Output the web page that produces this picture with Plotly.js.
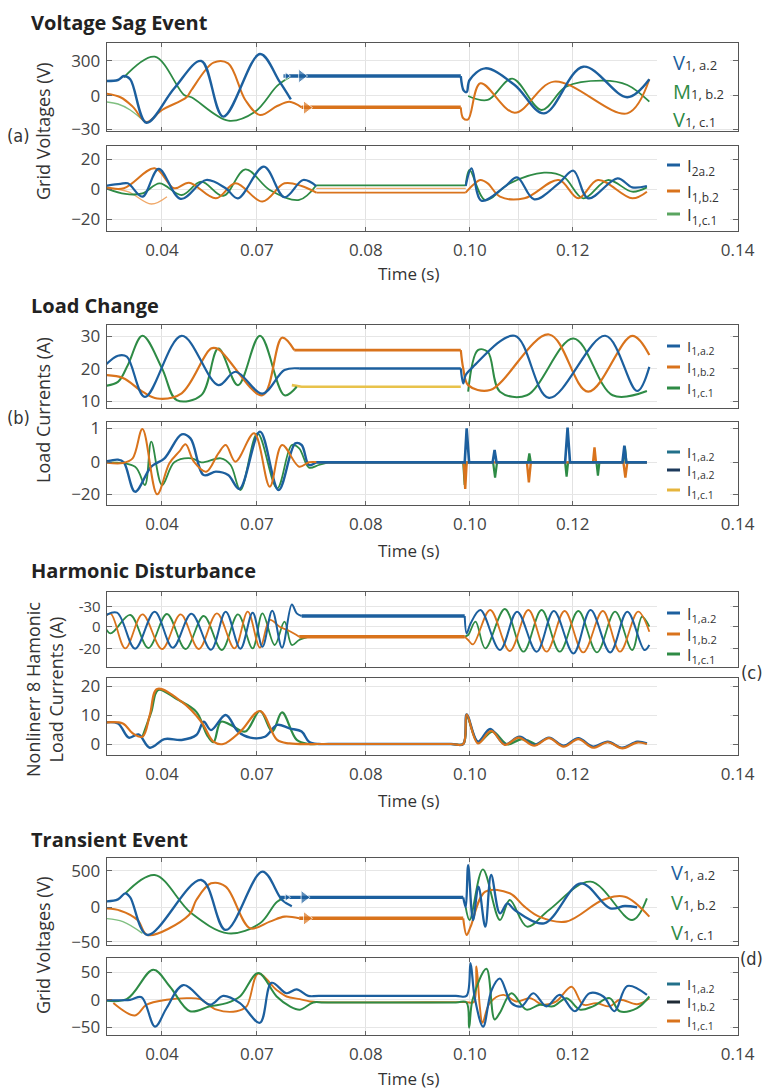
<!DOCTYPE html>
<html><head><meta charset="utf-8">
<script src="https://cdn.plot.ly/plotly-3.0.1.min.js"></script>
<style>html,body{margin:0;padding:0;background:#fff}#chart{width:766px;height:1090px}</style>
</head><body><div id="chart"></div>
<script>
// ---------- shared x axis (plot-time units, labels as printed) ----------
const xTickVals = [33.98, 53.37, 75.61, 96.84, 117.86, 151.53];
const xTickText = ["0.04", "0.07", "0.08", "0.10", "0.12", "0.14"];
const xExtraGrid = [106.84];

// ---------- (a) Voltage Sag Event : upper (voltages) ----------
const aUpTick = [300, 0, -286], aUpTickText = ["300", "0", "\u221230"];
const aUpBlueX = [22,25,26.2,27.5,30.8,36.5,42,46.5,54,58,60.3,null,95,95.6,96.2,96.8,100,106,112,120,129,133.5];
const aUpBlueY = [129,137,171,143,-229,66,300,-177,360,123,-29,null,171,46,34,137,237,94,-149,251,-11,143];
const aUpBlueFlatX = [58.8, 95], aUpBlueFlatY = [171, 171];
const aUpOrangeX = [22,25.5,28,30.8,34,39,40,44.5,47.5,51,54,57.5,60,62.5,null,95,95.5,96.5,99,106,114,129,133.5];
const aUpOrangeY = [23,-11,-91,-223,-120,-11,51,286,280,-34,-163,-86,-49,-97,null,-97,-191,-200,109,-143,123,-149,143];
const aUpOrangeFlatX = [62.5, 95], aUpOrangeFlatY = [-97, -97];
const aUpGreenX = [26.2,32.5,38.5,40,47.5,53,57.5,60,null,96.5,100.5,105.5,111.5,116.5,124,129,133.5];
const aUpGreenY = [160,337,9,-11,-211,-134,86,160,null,0,-34,149,-120,80,131,94,-49];
const aUpGreenGhostX = [22,25,27.5,30.5], aUpGreenGhostY = [-49,-69,-120,-223];
const aArrowX = [59.5, 62.5, 63.5], aArrowY = [171, 171, -100];

// ---------- (a) lower (currents) ----------
const aLoTick = [20, 0, -20], aLoTickText = ["20", "0", "\u221220"];
const aLoBlueX = [22,25.5,27,30,33.3,37.8,43,47,49.5,54.8,59,62.8,65.5,null,96,97.2,99.2,104,106.5,110,115,118,121,127,130,133];
const aLoBlueY = [2.2,3.6,4,-4.9,13.6,-6.4,6.2,0.7,-6,15.1,-5.3,6.2,2.2,null,2.2,14,-7.6,1.8,8,-6.7,4,12.4,-6,7.3,1.3,2.2];
const aLoOrangeX = [22,26.2,32.5,36.5,39.5,45,49,54.5,59,62.5,65.5,null,96,97.5,99,100.5,103,108,115,119,123,130,133];
const aLoOrangeY = [1.8,0.7,14,0.7,4.4,-6,4,-8.2,4,2.2,-2.2,null,-2.2,2.9,6.2,4,-4.9,-6,6.2,-6,6.2,-6,-1.6];
const aLoOrangeGhostX = [22,27,31.8,35], aLoOrangeGhostY = [1.3,-1.6,-9.8,-4.9];
const aLoGreenX = [22,26.5,30,33.5,38,42,46.5,51,56,62,65.5,null,96,96.8,100,105,112,116,120,125,130,133];
const aLoGreenY = [1.3,-3.1,-2.7,4,-3.8,5.1,-4.4,13.3,-0.4,-7.1,2.7,null,2.7,12.9,-7.1,4,11.1,8.4,-6,6.2,-1.6,1.3];
const aLoFlatX = [65.5, 96];
const aLoFlatGreen = [2.7, 2.7], aLoFlatMid = [0.6, 0.6], aLoFlatOrange = [-2.2, -2.2];

// ---------- (b) Load Change : upper ----------
const bUpTick = [30, 20, 10], bUpTickText = ["30", "20", "10"];
const bUpBlueX = [22,25,26.8,30.5,38,45.5,49,54.5,59,62,null,95,95.5,96,97.5,106,113,124.5,131,133.5];
const bUpBlueY = [20.5,24,23.7,11.4,30.1,15,19.1,12.4,19.6,20.1,null,20.1,15.5,18.1,20.6,30.1,11.1,30.1,13.2,20.6];
const bUpBlueFlatX = [62, 95], bUpBlueFlatY = [20.1, 20.1];
const bUpOrangeX = [22,26,30,33,38,44,45.5,54.5,58.5,61,null,95,95.5,96.5,101,113,121,130,133.5];
const bUpOrangeY = [18.1,17.2,13,10.9,12.5,26.2,26,11.9,29.5,25.7,null,25.7,20.1,15,13.5,30.5,13,30.1,24.2];
const bUpOrangeFlatX = [61, 95], bUpOrangeFlatY = [25.7, 25.7];
const bUpGreenX = [22,25,27,30,34,37,42,45.5,49.5,54,59,61.5,null,96.5,98.5,100.5,103,108.5,118,126,133];
const bUpGreenY = [14.7,16,21.1,30.1,20.1,10.4,11.9,26.2,15,30.1,11.9,14.5,null,13,25.7,25.2,13,11.9,29.3,11.9,13.2];
const bUpYellowX = [60.5, 62.5, 95], bUpYellowY = [15, 14.5, 14.5];

// ---------- (b) lower ----------
const bLoTick = [1.02, 0, -0.96], bLoTickText = ["1", "0", "\u221220"];
const bLoBlueX = [22,25,26.2,28.5,31.8,34.5,38,39.8,42.5,45,47.5,49.8,54,57.8,61.2,62.5,64,65.5];
const bLoBlueY = [0,0.08,0,-0.88,-0.13,0.12,0.84,0.72,-0.38,-0.28,-0.38,-0.8,0.92,-0.83,0.57,0.52,-0.08,0];
const bLoOrangeX = [22,26,28,30,33,35.5,37.5,38.8,40.5,43,45.5,47,49,52.8,56,58.5,62,64,66];
const bLoOrangeY = [0,-0.02,0.12,1.0,-0.96,-0.03,0.32,0.54,0.02,-0.28,0.27,0.52,0.02,0.87,-0.73,0.52,-0.13,0,0];
const bLoGreenX = [22,28.5,30.5,31.8,34,36.5,40,42,46,48,50,53.5,57.5,60.5,62,64,66,68];
const bLoGreenY = [0,-0.13,-0.68,0.62,-0.68,0,0.12,0,0.12,-0.08,-0.83,0.87,-0.78,0.52,0.42,-0.16,-0.08,0];
const bLoBlueSpX = [65.5,95.8,96.2,96.7,101.5,101.9,102.3,116.3,116.8,117.3,128,128.4,128.8,133];
const bLoBlueSpY = [0,0,1.02,0,0,0.37,0,0,1.04,0,0,0.5,0,0];
const bLoOrangeSpX = [66,95.6,95.9,96.2,108.5,108.9,109.3,122,122.3,122.6,128.2,128.6,129,133];
const bLoOrangeSpY = [0,0,-0.8,0,0,-0.6,0,0,0.45,0,0,-0.46,0,0];
const bLoGreenSpX = [68,95.5,95.8,96.1,101.6,102,102.4,108.7,109,109.3,116.3,116.6,116.9,122.7,123,123.3,128.2,128.5,128.8,133];
const bLoGreenSpY = [0,0,-0.68,0,0,-0.46,0,0,0.27,0,0,-0.43,0,0,-0.4,0,0,0.47,0,0];

// ---------- (c) Harmonic Disturbance : upper ----------
const cUpTick = [20, 0, -21.7], cUpTickText = ["-30", "0", "-20"];
const cUpBlueX = [22,24.8,28.5,32.5,36.2,40,44,47,50,52.5,54.5,56.5,58.5,60.5,61.5,62.5,null,95.8,96.2,97,99,103,106.5,110.5,114,118,121.5,125.5,129,132.5,133.5];
const cUpBlueY = [10,14,-22,15,-21,13,-23,15,-22,14,-20,16,-21,22.3,13.3,10.7,null,10.7,-6.7,3.3,16.7,-23.3,15,-25,15.7,-26.7,16.7,-25.7,15,-23.3,-18.3];
const cUpBlueFlatX = [62.5, 95.8], cUpBlueFlatY = [10.7, 10.7];
const cUpOrangeX = [22,23.5,26.5,30,34,37.8,41.5,45.2,48.8,51.5,54,56,58,60,62,null,95.8,96.5,97.5,101,105,108.8,112.5,116.2,120,124,127.5,131.2,133.5];
const cUpOrangeY = [8.3,13,-21.7,12.3,-22.3,12.3,-22.3,13.3,-21.7,15,-21,6.7,0,-4.3,-10,null,-10,-13.3,-17.7,16.7,-24.3,16.7,-25,15.7,-25.7,15.7,-25,15,-5];
const cUpOrangeFlatX = [62, 95.8], cUpOrangeFlatY = [-10, -10];
const cUpGreenX = [22,23.5,27.5,31.2,35,38.8,42.5,46.2,49.5,52.5,54.5,57,59,60.5,62,64,null,95.8,96.5,98,100,104,107.8,111.5,115.2,119,122.8,126.5,130,132,133.5];
const cUpGreenY = [3.3,-6.7,11.7,-21.3,12.7,-22.3,10.7,-23.3,12.3,-21.7,13.3,-18.3,5,-18.3,-13.3,-10,null,-10,-8.3,5,-21.7,17.7,-25,16.7,-25,15.7,-25.7,15,-23.3,10,0];

// ---------- (c) lower ----------
const cLoTick = [20, 10, 0], cLoTickText = ["20", "10", "0"];
const cLoBlueX = [22,25,27.2,29.2,31.5,34.5,38,41,42.5,44,47,49.5,52,55,57.5,60,62.5,64,66,68,93,95.5,96.2,98.5,101,104,107,110,113,116,119,122,125,128,131,133];
const cLoBlueY = [7.4,7.1,2.2,3.3,-1.3,1.7,1.4,3.1,7.7,4.8,10,4.3,2.2,2.5,6.6,5.4,4.3,0.8,0,0,0,0,10.2,0.8,5.2,-0.1,2.5,-0.3,2.2,-0.6,2,-0.9,0.8,-1.3,0.8,0.2];
const cLoOrangeX = [22,26,28,30,31.5,33,38,42,44.5,46.5,50,54,57.5,60,66,68,93,95.5,96.2,98.5,101.2,104,106.8,110,113,116,119,122,125,128,131,133];
const cLoOrangeY = [7.4,7.1,3.7,2.5,10,19,14.6,7.7,0.8,0,4.3,11.4,1.4,0.2,0,0,0,0,10.2,0.2,4.5,-0.3,2.2,-0.6,2,-0.9,1.7,-1.3,0.6,-1.5,0.5,0];
const cLoGreenX = [30,31.8,33.2,37,41,43.2,44.5,46,48,51,54,56.5,58.5,61.5,64,66,93,95.5,96.3,98.5,101.5,104.5,107.5,110.5];
const cLoGreenY = [2.5,11.1,18.7,15.5,11.1,3.1,0.6,7.7,6.6,4.3,11.4,4.3,10.9,1.4,0,0,0,0,9.4,0.6,4.3,-0.1,1.7,-0.3];

// ---------- (d) Transient Event : upper ----------
const dUpTick = [500, 0, -468], dUpTickText = ["500", "0", "\u221250"];
const dUpBlueX = [22,25,26.5,27.5,31,42,47,54.5,58.5,60.5,null,95.5,96,96.5,97.5,98.6,100,101.2,103,104.5,106,112,119.5,125.5,128.5,131];
const dUpBlueY = [77,109,191,136,-377,373,-309,486,100,14,null,136,0,577,-173,282,-264,441,-82,55,-36,-218,327,-14,18,0];
const dUpBlueFlatX = [58, 95.5], dUpBlueFlatY = [136, 136];
const dUpOrangeX = [22,25.5,29,31,39.5,41,44,47,52,56,59,62,null,95.5,96.2,97,100,105,108,111,116.5,124,128.5,133.5];
const dUpOrangeY = [-14,-45,-173,-377,-105,100,327,282,-286,-195,-127,-150,null,-150,-377,-264,214,191,9,-127,-195,100,145,-127];
const dUpOrangeFlatX = [62, 95.5], dUpOrangeFlatY = [-150, -150];
const dUpGreenX = [26.5,32.5,40,47.5,54,57.5,59.5,null,96,96.8,99.5,103,105,108.5,113,121.5,130,133];
const dUpGreenY = [191,441,-82,-355,-218,77,136,null,0,-173,518,-173,100,-264,-36,350,-173,123];
const dUpGreenGhostX = [22,26,30], dUpGreenGhostY = [-150,-195,-355];
const dArrowX = [59.5, 63, 63.5], dArrowY = [136, 136, -150];

// ---------- (d) lower ----------
const dLoTick = [50, 0, -50], dLoTickText = ["50", "0", "\u221250"];
const dLoBlueX = [21.33,27.45,29.83,32.56,34.94,38.34,43.78,46.5,49.9,53.98,56.36,59.43,61.47,63.85,66,94,96.16,96.98,97.86,99.56,101.3,102.97,105.35,107.4,109.8,112.5,115.2,118.3,121.3,124.1,126.4,129,133];
const dLoBlueY = [0,0,4.8,-48.8,-14.9,26.8,-8.9,7.1,-6,-41.7,30.9,11.9,19,7.1,7.1,7.1,7.1,66.6,3,-48.8,17.9,38.7,-6,-11.9,11.9,-11.9,8.9,-20.8,11.9,6,-20.8,25,9];
const dLoOrangeX = [24.05,28.47,30.85,34.94,39.02,41.74,45.14,49.22,51.26,53.64,57.4,59.43,62.15,64.2,66,94,96.16,97.65,98.2,98.88,99.43,100.9,103.65,106.4,109.1,111.8,114.5,117.6,120,122.7,125.4,127.45,131,133.5];
const dLoOrangeY = [-6,-28.6,-8.9,0,3,1.2,-17.9,-20.8,-11.9,47.6,17.9,6,1.2,-3,-4.2,-4.2,-4.2,-4.2,60.7,-11.9,-41.7,-6,8.9,-3,3,-8.9,-3,23.8,-8.9,-6,-11.9,0,-8,3];
const dLoGreenX = [21.33,26.77,32.21,35.62,39.7,43.78,47.18,49.9,53.64,57.4,60.1,62.15,64.87,67,94,96.16,96.7,97.4,100.24,101.9,102.97,105.35,108.4,111.13,113.8,116.6,119.3,122,125.4,127.45,131,133.5];
const dLoGreenY = [0,1.2,54.7,23.8,-20.8,-11.9,-6,6,48.8,6,-11.9,-17.9,-4.8,-4.8,-4.8,-4.8,-50.6,0,56.5,-35.7,-23.8,11.9,-17.9,-8.9,-11.9,3,-17.9,-11.9,3,-20.8,-15,6];

// ---------- styling ----------
const BLUE = '#1c5f9e', ORANGE = '#d9731c', GREEN = '#2e8b45';
const LGREEN = '#7fbf80', LORANGE = '#f0a868', YELLOW = '#e8c24a';
const FONT = 'Open Sans, Noto Sans, sans-serif';
const W = 766, H = 1090;
const px = v => v / W, py = v => 1 - v / H;

const traces = [];
function ln(x, y, color, width, n, shape, opacity) {
  const s = n === 1 ? '' : String(n);
  traces.push({type: 'scatter', mode: 'lines', x, y, xaxis: 'x' + s, yaxis: 'y' + s,
    line: {color, width, shape: shape || 'spline', smoothing: 1}, opacity: opacity || 1,
    connectgaps: false, hoverinfo: 'skip', showlegend: false});
}
function arrows(x, y, colors, n) {
  const s = n === 1 ? '' : String(n);
  traces.push({type: 'scatter', mode: 'markers', x, y, xaxis: 'x' + s, yaxis: 'y' + s,
    marker: {symbol: 'triangle-right', size: [7, 12, 12], color: colors}, hoverinfo: 'skip', showlegend: false});
}

// (a) upper
ln(aUpGreenGhostX, aUpGreenGhostY, LGREEN, 1.4, 1);
ln(aUpGreenX, aUpGreenY, GREEN, 1.8, 1);
ln(aUpOrangeX, aUpOrangeY, ORANGE, 2, 1);
ln(aUpOrangeFlatX, aUpOrangeFlatY, ORANGE, 3.6, 1, 'linear');
ln(aUpBlueX, aUpBlueY, BLUE, 2.4, 1);
ln(aUpBlueFlatX, aUpBlueFlatY, BLUE, 3.6, 1, 'linear');
arrows(aArrowX, aArrowY, [BLUE, BLUE, ORANGE], 1);
// (a) lower
ln(aLoOrangeGhostX, aLoOrangeGhostY, LORANGE, 1.3, 2);
ln(aLoFlatX, aLoFlatMid, LORANGE, 1.2, 2, 'linear');
ln(aLoFlatX, aLoFlatOrange, ORANGE, 1.6, 2, 'linear');
ln(aLoFlatX, aLoFlatGreen, GREEN, 1.8, 2, 'linear');
ln(aLoGreenX, aLoGreenY, GREEN, 1.8, 2);
ln(aLoOrangeX, aLoOrangeY, ORANGE, 2, 2);
ln(aLoBlueX, aLoBlueY, BLUE, 2.2, 2);
// (b) upper
ln(bUpYellowX, bUpYellowY, YELLOW, 2.6, 3, 'linear');
ln(bUpGreenX, bUpGreenY, GREEN, 2, 3);
ln(bUpOrangeX, bUpOrangeY, ORANGE, 2.2, 3);
ln(bUpOrangeFlatX, bUpOrangeFlatY, ORANGE, 2.6, 3, 'linear');
ln(bUpBlueX, bUpBlueY, BLUE, 2.2, 3);
ln(bUpBlueFlatX, bUpBlueFlatY, BLUE, 2.6, 3, 'linear');
// (b) lower
ln(bLoGreenX, bLoGreenY, GREEN, 1.8, 4);
ln(bLoBlueX, bLoBlueY, BLUE, 2.4, 4);
ln(bLoOrangeX, bLoOrangeY, ORANGE, 2, 4);
ln(bLoGreenSpX, bLoGreenSpY, GREEN, 2.2, 4, 'linear');
ln(bLoOrangeSpX, bLoOrangeSpY, ORANGE, 2.4, 4, 'linear');
ln(bLoBlueSpX, bLoBlueSpY, BLUE, 2.6, 4, 'linear');
// (c) upper
ln(cUpGreenX, cUpGreenY, GREEN, 1.8, 5);
ln(cUpOrangeX, cUpOrangeY, ORANGE, 1.8, 5);
ln(cUpOrangeFlatX, cUpOrangeFlatY, ORANGE, 3.4, 5, 'linear');
ln(cUpBlueX, cUpBlueY, BLUE, 2, 5);
ln(cUpBlueFlatX, cUpBlueFlatY, BLUE, 3.4, 5, 'linear');
// (c) lower
ln(cLoGreenX, cLoGreenY, GREEN, 2.2, 6);
ln(cLoBlueX, cLoBlueY, BLUE, 2.4, 6);
ln(cLoOrangeX, cLoOrangeY, ORANGE, 2.2, 6);
// (d) upper
ln(dUpGreenGhostX, dUpGreenGhostY, LGREEN, 1.4, 7);
ln(dUpGreenX, dUpGreenY, GREEN, 1.9, 7);
ln(dUpOrangeX, dUpOrangeY, ORANGE, 2.1, 7);
ln(dUpOrangeFlatX, dUpOrangeFlatY, ORANGE, 3.4, 7, 'linear');
ln(dUpBlueX, dUpBlueY, BLUE, 2.3, 7);
ln(dUpBlueFlatX, dUpBlueFlatY, BLUE, 3.4, 7, 'linear');
arrows(dArrowX, dArrowY, [BLUE, BLUE, ORANGE], 7);
// (d) lower
ln(dLoOrangeX, dLoOrangeY, ORANGE, 1.9, 8);
ln(dLoGreenX, dLoGreenY, GREEN, 2, 8);
ln(dLoBlueX, dLoBlueY, BLUE, 2.2, 8);

// ---------- axes ----------
const boxes = [[43,131],[146,231],[325,408],[422,505],[592,667],[678,755],[858,945],[958,1035]];
const yRanges = [[-300,454],[-27.8,28.9],[8,33.4],[-1.28,1.21],[-40.3,34.7],[-3.8,22.8],[-514,673],[-64,76]];
const yTicks = [[aUpTick,aUpTickText],[aLoTick,aLoTickText],[bUpTick,bUpTickText],[bLoTick,bLoTickText],
  [cUpTick,cUpTickText],[cLoTick,cLoTickText],[dUpTick,dUpTickText],[dLoTick,dLoTickText]];
const yTickSize = [17, 17, 17, 17, 15, 17, 17, 17];

const layout = {width: W, height: H, margin: {l:0, r:0, t:0, b:0}, paper_bgcolor: '#fff', plot_bgcolor: '#fff',
  showlegend: false, font: {family: FONT, color: '#333'}, annotations: [], shapes: []};

for (let i = 0; i < 8; i++) {
  const n = i + 1, s = n === 1 ? '' : String(n);
  const [top, bot] = boxes[i];
  layout['xaxis' + s] = {domain: [px(107), px(738)], range: [22.76, 151.6], anchor: 'y' + s,
    tickvals: xTickVals, ticktext: xTickText, showticklabels: (n % 2 === 0), ticks: 'inside', ticklen: 4,
    tickcolor: '#666', mirror: 'ticks', showline: true, linecolor: '#555', linewidth: 1.3,
    showgrid: true, gridcolor: '#e2e2e2', gridwidth: 1, zeroline: false, ticklabelstandoff: 3,
    minor: {tickvals: xExtraGrid, showgrid: true, gridcolor: '#e2e2e2', gridwidth: 1, ticks: ''},
    tickfont: {family: FONT, size: 17, color: '#444'}, fixedrange: true};
  layout['yaxis' + s] = {domain: [py(bot), py(top)], range: yRanges[i], anchor: 'x' + s,
    tickvals: yTicks[i][0], ticktext: yTicks[i][1], ticks: 'inside', ticklen: 5, tickcolor: '#666',
    mirror: 'ticks', showline: true, linecolor: '#555', linewidth: 1.3, showgrid: true, gridcolor: '#e6e6e6',
    zeroline: false, tickfont: {family: FONT, size: yTickSize[i], color: '#444'}, ticklabelstandoff: 2, fixedrange: true};
  // white panel behind legend
  layout.shapes.push({type: 'rect', xref: 'paper', yref: 'paper', x0: px(657), x1: px(730),
    y0: py(bot - 2), y1: py(top + 2), fillcolor: '#fff', line: {width: 0}, layer: 'above'});
}

function ann(x, y, text, opt) {
  layout.annotations.push(Object.assign({xref: 'paper', yref: 'paper', x: px(x), y: py(y), text,
    showarrow: false, xanchor: 'left', yanchor: 'middle', font: {family: FONT, size: 18, color: '#333'}}, opt || {}));
}
// panel titles
const titles = [["Voltage Sag Event", 22], ["Load Change", 305], ["Harmonic Disturbance", 571], ["Transient Event", 839]];
titles.forEach(([t, y]) => ann(29, y, '<b>' + t + '</b>', {font: {family: FONT, size: 20, color: '#222'}}));
// x titles
[273, 550, 800, 1078].forEach(y => ann(408, y, 'Time (s)', {xanchor: 'center', font: {family: FONT, size: 17, color: '#333'}}));
// y titles
ann(43, 131, 'Grid Voltages (V)', {xanchor: 'center', textangle: -90});
ann(43, 410, 'Load Currents (A)', {xanchor: 'center', textangle: -90});
ann(44, 690, 'Nonlinerr 8 Hamonic<br>Load Currents (A)', {xanchor: 'center', textangle: -90});
ann(43, 945, 'Grid Voltages (V)', {xanchor: 'center', textangle: -90});
// panel letters
const LFONT = {family: 'Liberation Sans Narrow, DejaVu Sans Condensed, sans-serif', size: 18, color: '#333'};
ann(18, 135, '(a)', {xanchor: 'center', font: LFONT});
ann(18, 417, '(b)', {xanchor: 'center', font: LFONT});
ann(765, 672, '(c)', {xanchor: 'right', font: LFONT});
ann(765, 958, '(d)', {xanchor: 'right', font: LFONT});

// text-only legends (colored symbol letter, small index on the baseline)
function bigLegend(x, y, letter, color, sub) {
  ann(x, y, '<span style="font-size:20px;color:' + color + '">' + letter + '</span>' +
    '<span style="font-size:13px">' + sub + '</span>', {font: {family: FONT, size: 20, color: '#333'}});
}
bigLegend(671, 62, 'V', BLUE, '1, a.2');
bigLegend(671, 91, 'M', GREEN, '1, b.2');
bigLegend(671, 119, 'V', GREEN, '1, c.1');
bigLegend(669, 872, 'V', BLUE, '1, a.2');
bigLegend(669, 902, 'V', GREEN, '1, b.2');
bigLegend(669, 932, 'V', GREEN, '1, c.1');

// line-sample legends
function lineLegend(y, color, label, size) {
  layout.shapes.push({type: 'line', xref: 'paper', yref: 'paper', x0: px(667), x1: px(680), y0: py(y), y1: py(y),
    line: {color, width: 3}});
  ann(685, y + 1, 'I<sub>' + label + '</sub>', {font: {family: FONT, size: size || 18, color: '#333'}});
}
lineLegend(165, BLUE, '2a.2', 17); lineLegend(191, ORANGE, '1,b.2', 17); lineLegend(214, '#5aa560', '1,c.1', 17);
lineLegend(346, BLUE, '1,a.2', 15); lineLegend(367, ORANGE, '1,b.2', 15); lineLegend(388, GREEN, '1,c.1', 15);
lineLegend(452, '#22708a', '1,a.2', 15); lineLegend(470, '#1d3a5c', '1,a.2', 15); lineLegend(490, '#e6b53c', '1,c.1', 15);
lineLegend(613, BLUE, '1,a.2', 16); lineLegend(634, ORANGE, '1,b.2', 16); lineLegend(654, GREEN, '1,c.1', 16);
lineLegend(984, '#22708a', '1,a.2', 15); lineLegend(1002, '#1f2a36', '1,b.2', 15); lineLegend(1021, ORANGE, '1,c.1', 15);

Plotly.newPlot('chart', traces, layout, {displayModeBar: false, staticPlot: true});
</script></body></html>
